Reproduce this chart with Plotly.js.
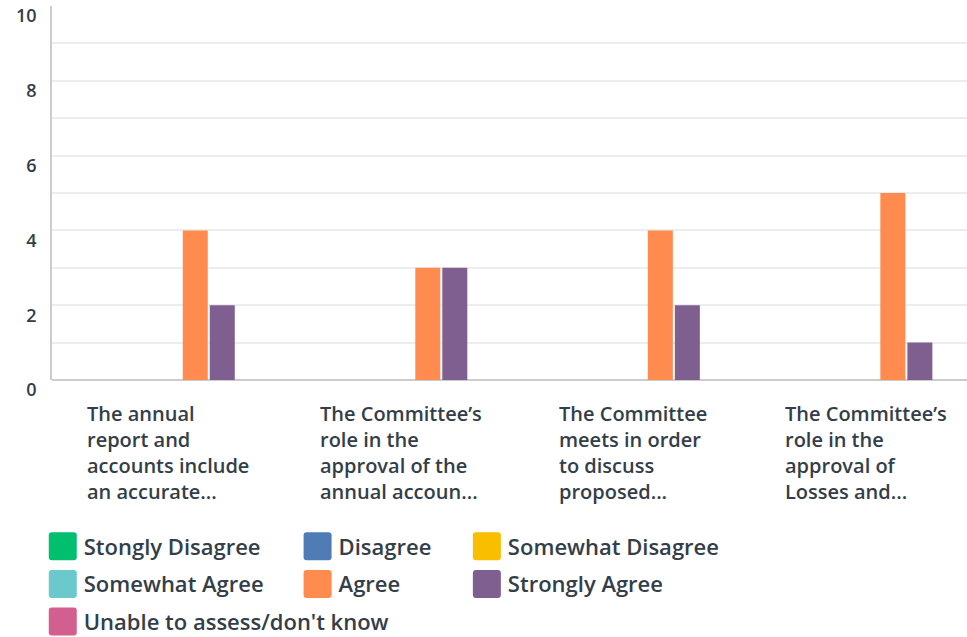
<!DOCTYPE html>
<html>
<head>
<meta charset="utf-8">
<script src="https://cdn.plot.ly/plotly-3.0.1.min.js"></script>
<style>html,body{margin:0;padding:0;background:#fff;}#chart{width:967px;height:637px;}</style>
</head>
<body>
<div id="chart"></div>
<script>
const categories = ["cat1", "cat2", "cat3", "cat4"];
const categoryLabels = [
  "The annual<br>report and<br>accounts include<br>an accurate...",
  "The Committee\u2019s<br>role in the<br>approval of the<br>annual accoun...",
  "The Committee<br>meets in order<br>to discuss<br>proposed...",
  "The Committee\u2019s<br>role in the<br>approval of<br>Losses and..."
];
const seriesNames = ["Stongly Disagree", "Disagree", "Somewhat Disagree", "Somewhat Agree", "Agree", "Strongly Agree", "Unable to assess/don't know"];
const stronglyDisagree = [0, 0, 0, 0];
const disagree = [0, 0, 0, 0];
const somewhatDisagree = [0, 0, 0, 0];
const somewhatAgree = [0, 0, 0, 0];
const agree = [4, 3, 4, 5];
const stronglyAgree = [2, 3, 2, 1];
const unableToAssess = [0, 0, 0, 0];
const yTickVals = [0, 2, 4, 6, 8, 10];

const seriesValues = [stronglyDisagree, disagree, somewhatDisagree, somewhatAgree, agree, stronglyAgree, unableToAssess];
const colors = ["#00bf6f", "#507cb6", "#f9be00", "#6bc8cd", "#ff8b4f", "#7f5f90", "#d25f90"];
const legendFor = ["legend", "legend2", "legend3", "legend", "legend2", "legend3", "legend"];

const FONT = "Open Sans, sans-serif";
const TEXT = "#333e48";

const traces = seriesNames.map((name, i) => ({
  type: "bar",
  name: name,
  x: categories,
  y: seriesValues[i],
  marker: {color: colors[i], line: {width: 0}},
  legend: legendFor[i],
  legendgroup: name,
  hoverinfo: "x+y+name"
}));

const annotations = categories.map((c, i) => ({
  x: c, xref: "x", y: 0, yref: "y",
  xanchor: "center", yanchor: "top", align: "left",
  yshift: -18,
  showarrow: false,
  text: categoryLabels[i],
  font: {family: FONT, size: 20, color: TEXT, weight: 600}
}));

const legendCommon = {
  orientation: "v",
  yanchor: "top",
  y: -0.389,
  xanchor: "left",
  bgcolor: "rgba(0,0,0,0)",
  borderwidth: 0,
  tracegroupgap: 6,
  font: {family: FONT, size: 22, color: TEXT, weight: 600}
};

const layout = {
  width: 967, height: 637,
  margin: {l: 52, r: 0, t: 6, b: 257, pad: 0, autoexpand: false},
  paper_bgcolor: "#fff", plot_bgcolor: "#fff",
  barmode: "group",
  bargap: 0.187,
  bargroupgap: 0.074,
  showlegend: true,
  xaxis: {
    type: "category",
    range: [-0.5, 3.435],
    showticklabels: false,
    ticks: "",
    showgrid: false,
    zeroline: false,
    showline: false,
    fixedrange: true
  },
  yaxis: {
    range: [0, 10],
    tickvals: yTickVals,
    ticktext: yTickVals.map(String),
    showgrid: true,
    gridcolor: "#ededed",
    gridwidth: 1.5,
    minor: {dtick: 1, showgrid: true, gridcolor: "#ededed", gridwidth: 1.5},
    zeroline: true,
    zerolinecolor: "#cccccc",
    zerolinewidth: 2,
    showline: true,
    linecolor: "#cccccc",
    linewidth: 1.5,
    ticks: "",
    ticklabelstandoff: 10,
    ticklabelshift: 10,
    tickfont: {family: FONT, size: 18, color: TEXT, weight: 600},
    fixedrange: true
  },
  legend: Object.assign({}, legendCommon, {x: -0.009}),
  legend2: Object.assign({}, legendCommon, {x: 0.2695}),
  legend3: Object.assign({}, legendCommon, {x: 0.4545}),
  annotations: annotations,
  hovermode: "closest"
};

function enlargeSwatches(gd) {
  gd.querySelectorAll("g.legendpoints path").forEach(function (p) {
    p.setAttribute("d", "M-12,-14H10A3,3 0 0 1 13,-11V11A3,3 0 0 1 10,14H-12A3,3 0 0 1 -15,11V-11A3,3 0 0 1 -12,-14Z");
  });
}

Plotly.newPlot("chart", traces, layout, {displayModeBar: false, responsive: false}).then(function (gd) {
  enlargeSwatches(gd);
  gd.on("plotly_afterplot", function () { enlargeSwatches(gd); });
});
</script>
</body>
</html>
